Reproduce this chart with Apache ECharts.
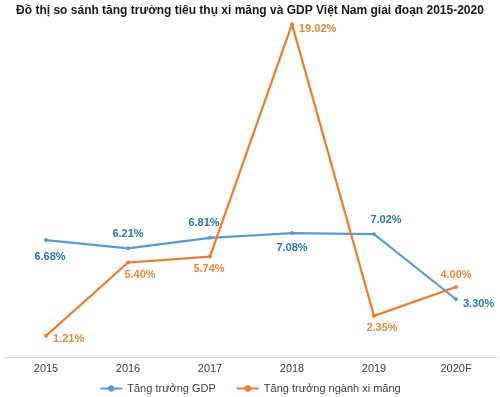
<!DOCTYPE html>
<html>
<head>
<meta charset="utf-8">
<script src="https://cdn.jsdelivr.net/npm/echarts@6/dist/echarts.min.js"></script>
<style>
  html, body { margin: 0; padding: 0; background: #fff; }
  #chart { width: 500px; height: 397px; }
</style>
</head>
<body>
<div id="chart"></div>
<script>
var years = ['2015', '2016', '2017', '2018', '2019', '2020F'];
var gdp = [6.68, 6.21, 6.81, 7.08, 7.02, 3.30];
var cement = [1.21, 5.40, 5.74, 19.02, 2.35, 4.00];
// where each value label sits, per point
var gdpLabelPos = [['bottom', [4, 4]], ['top', [0, -2]], ['top', [-6, -2]], ['bottom', [0, 2]], ['top', [12, -2]], ['right', [0, 5]]];
var cementLabelPos = [['right', [0, 3]], ['bottom', [12, 0]], ['bottom', [-1, 0]], ['right', [0, 5]], ['bottom', [8, 0]], ['top', [0, 0]]];

function withLabels(values, pos, color) {
    return values.map(function (v, i) {
        return {
            value: v,
            label: { position: pos[i][0], offset: pos[i][1], color: color }
        };
    });
}

var chart = echarts.init(document.getElementById('chart'));
var fontFam = '"Liberation Sans", Arial, sans-serif';

chart.setOption({
    animation: false,
    title: {
        text: 'Đồ thị so sánh tăng trưởng tiêu thụ xi măng và GDP Việt Nam giai đoạn 2015-2020',
        left: 'center',
        top: 0,
        textStyle: { fontSize: 12, fontWeight: 'bold', color: '#1a1a1a', fontFamily: fontFam }
    },
    legend: {
        bottom: -2,
        left: 'center',
        itemWidth: 22,
        itemHeight: 8,
        itemGap: 20,
        textStyle: { fontSize: 11, color: '#404040', fontFamily: fontFam },
        data: ['Tăng trưởng GDP', 'Tăng trưởng ngành xi măng']
    },
    grid: { left: 5, right: 3, top: 7, bottom: 40 },
    xAxis: {
        type: 'category',
        data: years,
        axisLine: { lineStyle: { color: '#d9d9d9' } },
        axisTick: { show: false },
        axisLabel: { color: '#404040', fontSize: 11, fontFamily: fontFam, margin: 6 }
    },
    yAxis: {
        type: 'value',
        min: 0,
        max: 20,
        show: false,
        splitLine: { show: false }
    },
    series: [
        {
            name: 'Tăng trưởng GDP',
            type: 'line',
            data: withLabels(gdp, gdpLabelPos, '#2e75b6'),
            symbol: 'circle',
            symbolSize: 4,
            itemStyle: { color: '#5b9bd5' },
            lineStyle: { width: 2.2, color: '#5b9bd5' },
            label: {
                show: true,
                fontSize: 11,
                fontWeight: 'bold',
                fontFamily: fontFam,
                formatter: function (p) { return p.value.toFixed(2) + '%'; }
            }
        },
        {
            name: 'Tăng trưởng ngành xi măng',
            type: 'line',
            data: withLabels(cement, cementLabelPos, '#e6883c'),
            symbol: 'circle',
            symbolSize: 4,
            itemStyle: { color: '#ed7d31' },
            lineStyle: { width: 2.2, color: '#ed7d31' },
            label: {
                show: true,
                fontSize: 11,
                fontWeight: 'bold',
                fontFamily: fontFam,
                formatter: function (p) { return p.value.toFixed(2) + '%'; }
            }
        }
    ]
});
</script>
</body>
</html>
